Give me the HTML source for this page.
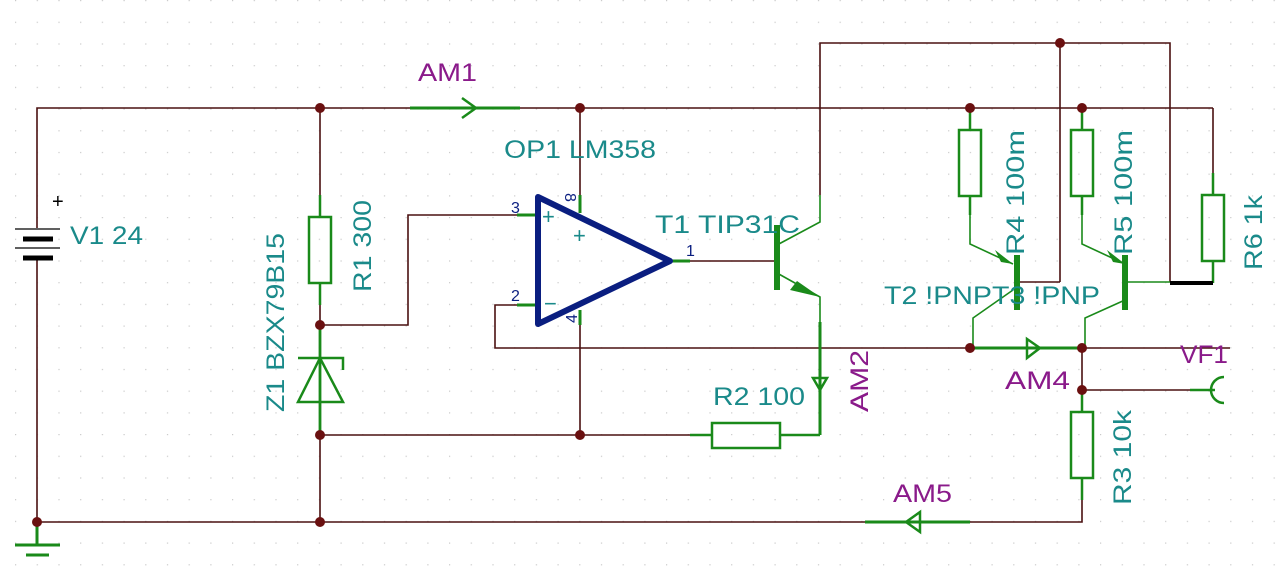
<!DOCTYPE html>
<html><head><style>
html,body{margin:0;padding:0;background:#fff;}
svg{display:block;}
text{font-family:"Liberation Sans",sans-serif;}
</style></head><body>
<svg width="1280" height="576" viewBox="0 0 1280 576" xmlns="http://www.w3.org/2000/svg">
<defs>
<pattern id="g" width="21.7" height="21.7" patternUnits="userSpaceOnUse" x="15" y="0">
<rect x="0" y="0" width="1.2" height="1.2" fill="#bbb"/>
</pattern>
</defs>
<rect width="1280" height="576" fill="#fff"/>
<rect width="1280" height="576" fill="url(#g)" opacity="0.8"/>
<g stroke="#4a1010" stroke-width="1.6" fill="none">
<polyline points="37,228 37,108 410,108"/>
<line x1="520" y1="108" x2="1213" y2="108"/>
<polyline points="1213,108 1213,173"/>
<line x1="37" y1="258" x2="37" y2="522"/>
<line x1="37" y1="522" x2="865" y2="522"/>
<polyline points="970,522 1082,522 1082,490"/>
<line x1="320" y1="108" x2="320" y2="195"/>
<polyline points="320,305 320,325 408,325 408,215 517,215"/>
<line x1="320" y1="435" x2="320" y2="522"/>
<line x1="320" y1="435" x2="690" y2="435"/>
<line x1="580" y1="108" x2="580" y2="195"/>
<line x1="580" y1="325" x2="580" y2="435"/>
<polyline points="517,305 495,305 495,348 970,348"/>
<line x1="1082" y1="348" x2="1230" y2="348"/>
<line x1="690" y1="261" x2="777" y2="261"/>
<polyline points="820,195 820,43 1170,43 1170,282"/>
<line x1="1060" y1="43" x2="1060" y2="282"/>
<line x1="1082" y1="348" x2="1082" y2="390"/>
<line x1="1082" y1="390" x2="1190" y2="390"/>
<line x1="1020" y1="282" x2="1060" y2="282"/>
</g>
<g stroke="#1a8a1a" stroke-width="2.5" fill="none">
<line x1="410" y1="108" x2="520" y2="108" stroke-width="3"/>
<polyline points="462,98 476,108 462,118 Z"/>
<line x1="320" y1="195" x2="320" y2="217"/><rect x="309" y="217" width="22" height="66"/><line x1="320" y1="283" x2="320" y2="305"/>
<line x1="320" y1="325" x2="320" y2="435" stroke-width="2.8"/>
<polygon points="298,402 343,402 320,358"/>
<polyline points="298,358 343,358 343,370"/>
<line x1="517" y1="215" x2="538" y2="215" stroke-width="3"/>
<line x1="517" y1="305" x2="538" y2="305" stroke-width="3"/>
<line x1="580" y1="195" x2="580" y2="213" stroke-width="3"/>
<line x1="580" y1="310" x2="580" y2="325" stroke-width="3"/>
<line x1="670" y1="261" x2="690" y2="261" stroke-width="3"/>
<line x1="777" y1="225" x2="777" y2="290" stroke-width="6"/>
<polyline points="777,245 820,222 820,195" stroke-width="1.6"/>
<polyline points="777,273 820,297 820,322" stroke-width="1.6"/>
<line x1="820" y1="322" x2="820" y2="435" stroke-width="3"/>
<polygon points="813,378 827,378 820,390"/>
<line x1="800" y1="435" x2="820" y2="435"/>
<line x1="690" y1="435" x2="712" y2="435"/><rect x="712" y="423" width="68" height="25"/><line x1="780" y1="435" x2="800" y2="435"/>
<line x1="970" y1="108" x2="970" y2="130"/><rect x="959" y="130" width="22" height="66"/><line x1="970" y1="196" x2="970" y2="215"/>
<line x1="1082" y1="108" x2="1082" y2="130"/><rect x="1071" y="130" width="22" height="66"/><line x1="1082" y1="196" x2="1082" y2="215"/>
<line x1="1017" y1="255" x2="1017" y2="310" stroke-width="6"/>
<polyline points="970,215 970,244 1013,264" stroke-width="1.6"/>
<polyline points="1013,290 973,318 973,348" stroke-width="1.6"/>
<polyline points="1082,215 1082,244 1125,264" stroke-width="1.6"/>
<line x1="1125" y1="255" x2="1125" y2="310" stroke-width="6"/>
<polyline points="1125,300 1085,318 1085,348" stroke-width="1.6"/>
<line x1="1125" y1="282" x2="1170" y2="282" stroke-width="1.6"/>
<line x1="1213" y1="173" x2="1213" y2="195"/><rect x="1202" y="195" width="22" height="66"/><line x1="1213" y1="261" x2="1213" y2="283"/>
<line x1="970" y1="348" x2="1082" y2="348" stroke-width="3"/>
<polygon points="1027,339 1040,348 1027,358"/>
<line x1="1082" y1="390" x2="1082" y2="412"/><rect x="1071" y="412" width="22" height="66"/><line x1="1082" y1="478" x2="1082" y2="500"/>
<line x1="1190" y1="390" x2="1215" y2="390"/>
<path d="M1224,377 A13,13 0 0 0 1224,403"/>
<line x1="865" y1="522" x2="970" y2="522" stroke-width="3"/>
<polygon points="920,512 906,522 920,532"/>
<line x1="37" y1="522" x2="37" y2="545" stroke-width="3"/>
<line x1="15" y1="545" x2="60" y2="545" stroke-width="3"/>
<line x1="26" y1="555" x2="49" y2="555" stroke-width="3"/>
</g>
<g fill="#1a8a1a">
<polygon points="1013,264 995,250 1001,262"/>
<polygon points="1125,264 1107,250 1113,262"/>
<polygon points="820,297 797,281 790,290"/>
</g>
<g stroke="#000">
<line x1="15" y1="229" x2="60" y2="229" stroke-width="1.3"/>
<line x1="23" y1="239" x2="53" y2="239" stroke-width="5"/>
<line x1="15" y1="248" x2="60" y2="248" stroke-width="1.3"/>
<line x1="23" y1="258" x2="53" y2="258" stroke-width="5"/>
<line x1="1170" y1="283" x2="1213" y2="283" stroke-width="4"/>
</g>
<polygon points="538,197 538,324 670,261" fill="none" stroke="#0a1e80" stroke-width="6" stroke-linejoin="round"/>
<g fill="#6a1010">
<circle cx="320" cy="108" r="5"/><circle cx="580" cy="108" r="5"/><circle cx="970" cy="108" r="5"/><circle cx="1082" cy="108" r="5"/><circle cx="1060" cy="43" r="5"/>
<circle cx="320" cy="325" r="5"/><circle cx="320" cy="435" r="5"/><circle cx="580" cy="435" r="5"/><circle cx="37" cy="522" r="5"/><circle cx="320" cy="522" r="5"/>
<circle cx="970" cy="348" r="5"/><circle cx="1082" cy="348" r="5"/><circle cx="1082" cy="390" r="5"/>
</g>
<g fill="#1a8a8a" font-size="25">
<text x="70" y="244" textLength="73" lengthAdjust="spacingAndGlyphs">V1 24</text>
<text x="504" y="158" textLength="152" lengthAdjust="spacingAndGlyphs">OP1 LM358</text>
<text x="655" y="233" textLength="145" lengthAdjust="spacingAndGlyphs">T1 TIP31C</text>
<text x="884" y="304" textLength="216" lengthAdjust="spacingAndGlyphs">T2 !PNPT3 !PNP</text>
<text x="713" y="405" textLength="92" lengthAdjust="spacingAndGlyphs">R2 100</text>
<text transform="translate(371,292) rotate(-90)" textLength="92" lengthAdjust="spacingAndGlyphs">R1 300</text>
<text transform="translate(284,412) rotate(-90)" textLength="179" lengthAdjust="spacingAndGlyphs">Z1 BZX79B15</text>
<text transform="translate(1024,255) rotate(-90)" textLength="125" lengthAdjust="spacingAndGlyphs">R4 100m</text>
<text transform="translate(1132,255) rotate(-90)" textLength="125" lengthAdjust="spacingAndGlyphs">R5 100m</text>
<text transform="translate(1262,270) rotate(-90)" textLength="75" lengthAdjust="spacingAndGlyphs">R6 1k</text>
<text transform="translate(1131,505) rotate(-90)" textLength="95" lengthAdjust="spacingAndGlyphs">R3 10k</text>
</g>
<g fill="#8a1a8a" font-size="25">
<text x="418" y="81" textLength="59" lengthAdjust="spacingAndGlyphs">AM1</text>
<text x="1005" y="389" textLength="65" lengthAdjust="spacingAndGlyphs">AM4</text>
<text x="1180" y="363" textLength="48" lengthAdjust="spacingAndGlyphs">VF1</text>
<text x="893" y="502" textLength="59" lengthAdjust="spacingAndGlyphs">AM5</text>
<text transform="translate(868,412) rotate(-90)" textLength="62" lengthAdjust="spacingAndGlyphs">AM2</text>
</g>
<g fill="#0a1e80" font-size="16">
<text x="511" y="213">3</text>
<text x="511" y="301">2</text>
<text x="686" y="256">1</text>
<text transform="translate(565,193) rotate(90)">8</text>
<text transform="translate(577,323) rotate(-90)">4</text>
</g>
<g fill="#1a8a8a" font-size="22">
<text x="542" y="224">+</text><text x="573" y="243">+</text><text x="544" y="311">−</text>
</g>
<text x="52" y="208" font-size="20" fill="#000">+</text>
</svg>
</body></html>
